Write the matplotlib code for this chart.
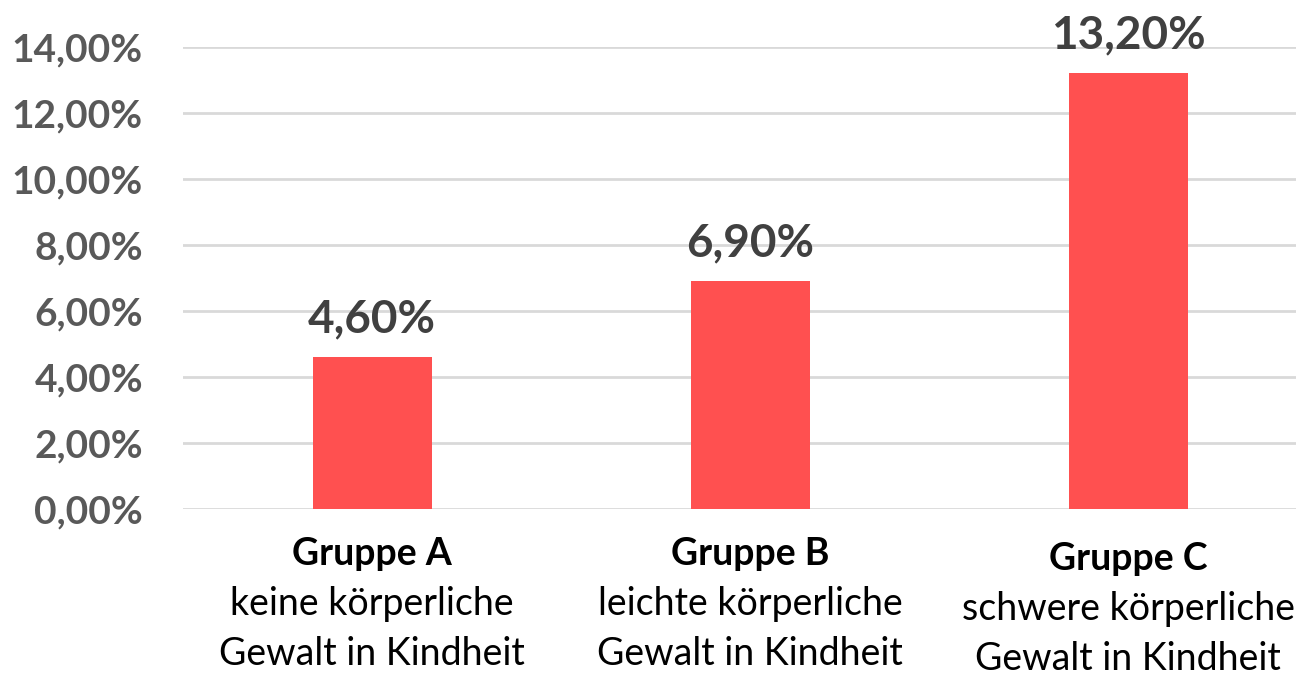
import matplotlib
matplotlib.use("Agg")
import matplotlib.pyplot as plt
from matplotlib.ticker import FuncFormatter

groups = ["Gruppe A", "Gruppe B", "Gruppe C"]
descr_line1 = ["keine körperliche", "leichte körperliche", "schwere körperliche"]
descr_line2 = ["Gewalt in Kindheit", "Gewalt in Kindheit", "Gewalt in Kindheit"]
values = [4.60, 6.90, 13.20]
yticks = [0, 2, 4, 6, 8, 10, 12, 14]

FONT = "Lato"
DPI = 100
W, H = 1296, 679
PT = 72.0 / DPI  # points per pixel

fig = plt.figure(figsize=(W / DPI, H / DPI), dpi=DPI)
left, right, bottom, top = 183, 1317, 509, 47
ax = fig.add_axes([left / W, (H - bottom) / H, (right - left) / W, (bottom - top) / H])

x = list(range(len(values)))
ax.bar(x, values, width=119 / 378, color="#FF5050", zorder=3)
ax.set_xlim(-0.5, len(values) - 0.5)
ax.set_ylim(0, 14)
ax.set_yticks(yticks)
ax.yaxis.set_major_formatter(FuncFormatter(lambda v, p: f"{v:.2f}%".replace(".", ",")))
ax.grid(axis="y", color="#D9D9D9", linewidth=2)
ax.set_axisbelow(True)
for s in ax.spines.values():
    s.set_visible(False)
ax.tick_params(axis="y", length=0, pad=40 * PT, labelsize=28, labelcolor="#595959")
for lab in ax.get_yticklabels():
    lab.set_fontfamily(FONT)
    lab.set_fontweight("bold")
ax.set_xticks([])

for i, v in enumerate(values):
    ax.annotate(f"{v:.2f}%".replace(".", ","), xy=(i, v), xytext=(0, 25 * PT),
                textcoords="offset points", ha="center", va="baseline",
                fontsize=33, fontweight="bold", color="#404040", family=FONT)

extra = [0, 0, 5]
for i in range(len(groups)):
    for k, (txt, wt) in enumerate([(groups[i], "bold"), (descr_line1[i], "normal"), (descr_line2[i], "normal")]):
        ax.annotate(txt, xy=(i, 0), xycoords=("data", "axes fraction"),
                    xytext=(0, -(56 + 50 * k + extra[i]) * PT), textcoords="offset points",
                    ha="center", va="baseline", fontsize=27, fontweight=wt,
                    color="black", family=FONT, annotation_clip=False)

fig.savefig("out.png", dpi=DPI)
